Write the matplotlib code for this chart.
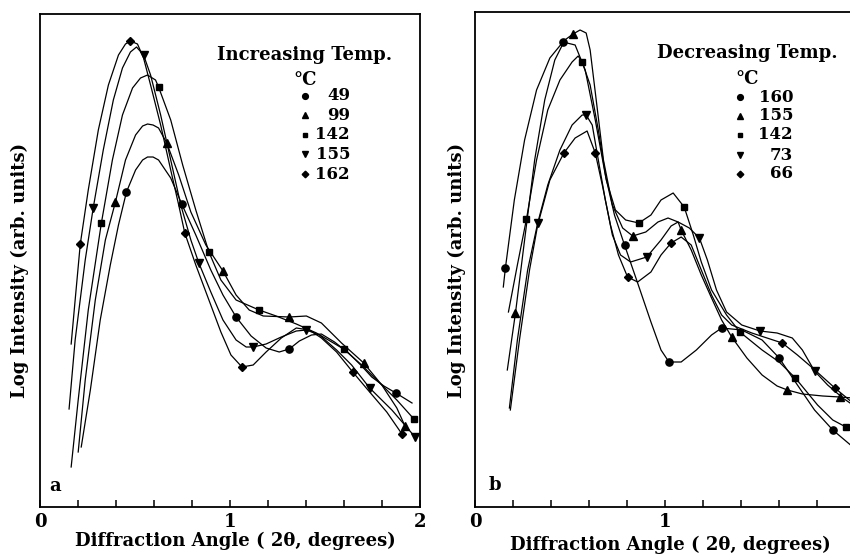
import matplotlib
matplotlib.use("Agg")
import matplotlib.pyplot as plt

plt.rcParams["font.family"] = ["DejaVu Serif"]

# --- panel a: increasing temperature (x = 2 theta, y = log intensity, arb.) ---
inc_temps = ["49", "99", "142", "155", "162"]
inc_markers = ["o", "^", "s", "v", "D"]

a49_x = [0.217, 0.265, 0.317, 0.370, 0.413, 0.455, 0.503, 0.540, 0.566, 0.595, 0.624, 0.688, 0.746, 0.820,
         0.899, 0.963, 1.032, 1.111, 1.190, 1.259, 1.312, 1.365, 1.429, 1.481, 1.550, 1.624, 1.693, 1.746,
         1.810, 1.873, 1.958]
a49_y = [0.28, 0.85, 1.55, 2.10, 2.50, 2.83, 3.05, 3.15, 3.18, 3.18, 3.15, 2.97, 2.71, 2.40,
         2.05, 1.80, 1.58, 1.39, 1.27, 1.23, 1.26, 1.34, 1.40, 1.41, 1.33, 1.22, 1.09, 0.98,
         0.89, 0.82, 0.72]
a49_mx = [0.455, 0.746, 1.032, 1.312, 1.873]
a49_my = [2.83, 2.71, 1.58, 1.26, 0.82]

a99_x = [0.201, 0.238, 0.291, 0.344, 0.397, 0.450, 0.503, 0.540, 0.566, 0.595, 0.624, 0.667, 0.730, 0.794,
         0.873, 0.963, 1.032, 1.101, 1.175, 1.312, 1.402, 1.481, 1.587, 1.704, 1.799, 1.878, 1.921]
a99_y = [0.23, 0.95, 1.75, 2.35, 2.73, 3.15, 3.40, 3.49, 3.51, 3.50, 3.47, 3.32, 3.00, 2.63,
         2.30, 2.04, 1.80, 1.65, 1.59, 1.58, 1.59, 1.52, 1.32, 1.12, 0.90, 0.67, 0.49]
a99_mx = [0.397, 0.667, 0.963, 1.312, 1.704, 1.921]
a99_my = [2.73, 3.32, 2.04, 1.58, 1.12, 0.49]

a142_x = [0.164, 0.201, 0.254, 0.323, 0.381, 0.434, 0.487, 0.529, 0.566, 0.608, 0.624, 0.688, 0.751, 0.820,
          0.889, 0.952, 1.032, 1.153, 1.243, 1.349, 1.455, 1.598, 1.693, 1.799, 1.878, 1.968]
a142_y = [0.08, 0.75, 1.65, 2.52, 3.15, 3.60, 3.87, 3.97, 4.00, 3.95, 3.88, 3.55, 3.10, 2.65,
          2.23, 1.95, 1.75, 1.65, 1.59, 1.51, 1.42, 1.26, 1.10, 0.90, 0.75, 0.56]
a142_mx = [0.323, 0.624, 0.889, 1.153, 1.598, 1.968]
a142_my = [2.52, 3.88, 2.23, 1.65, 1.26, 0.56]

a155_x = [0.153, 0.185, 0.238, 0.280, 0.333, 0.386, 0.434, 0.476, 0.508, 0.545, 0.582, 0.635, 0.688, 0.741,
          0.794, 0.836, 0.899, 0.963, 1.032, 1.085, 1.122, 1.190, 1.270, 1.349, 1.402, 1.471, 1.561, 1.640,
          1.735, 1.852, 1.974]
a155_y = [0.66, 1.35, 2.15, 2.67, 3.25, 3.75, 4.07, 4.23, 4.28, 4.20, 4.00, 3.60, 3.15, 2.70,
          2.35, 2.12, 1.83, 1.55, 1.35, 1.28, 1.28, 1.31, 1.38, 1.44, 1.45, 1.40, 1.25, 1.10,
          0.87, 0.65, 0.38]
a155_mx = [0.280, 0.545, 0.836, 1.122, 1.402, 1.735, 1.974]
a155_my = [2.67, 4.20, 2.12, 1.28, 1.45, 0.87, 0.38]

a162_x = [0.164, 0.185, 0.212, 0.254, 0.307, 0.360, 0.413, 0.450, 0.476, 0.513, 0.545, 0.582, 0.635, 0.688,
          0.730, 0.762, 0.820, 0.889, 0.952, 1.005, 1.063, 1.122, 1.190, 1.270, 1.349, 1.418, 1.481, 1.561,
          1.646, 1.735, 1.825, 1.905]
a162_y = [1.31, 1.75, 2.31, 2.85, 3.45, 3.90, 4.20, 4.31, 4.34, 4.31, 4.17, 3.90, 3.50, 3.05,
          2.70, 2.42, 2.10, 1.75, 1.43, 1.20, 1.08, 1.10, 1.23, 1.37, 1.47, 1.45, 1.37, 1.23,
          1.03, 0.83, 0.63, 0.41]
a162_mx = [0.212, 0.476, 0.762, 1.063, 1.646, 1.905]
a162_my = [2.31, 4.34, 2.42, 1.08, 1.03, 0.41]

# --- panel b: decreasing temperature ---
dec_temps = ["160", "155", "142", "73", "66"]
dec_markers = ["o", "^", "s", "v", "D"]

b160_x = [0.149, 0.160, 0.207, 0.261, 0.324, 0.394, 0.463, 0.527, 0.580, 0.633, 0.686, 0.734, 0.787, 0.856,
          0.926, 0.979, 1.021, 1.085, 1.165, 1.245, 1.298, 1.404, 1.511, 1.601, 1.697, 1.787, 1.883, 1.989]
b160_y = [1.90, 2.09, 2.77, 3.37, 3.87, 4.19, 4.35, 4.32, 4.07, 3.57, 3.02, 2.62, 2.32, 1.94,
          1.55, 1.27, 1.15, 1.15, 1.27, 1.42, 1.49, 1.47, 1.37, 1.19, 0.92, 0.67, 0.47, 0.30]
b160_mx = [0.160, 0.463, 0.787, 1.021, 1.298, 1.601, 1.883]
b160_my = [2.09, 4.35, 2.32, 1.15, 1.49, 1.19, 0.47]

b155_x = [0.170, 0.213, 0.261, 0.314, 0.367, 0.420, 0.473, 0.516, 0.553, 0.585, 0.606, 0.638, 0.676, 0.723,
          0.777, 0.830, 0.899, 0.963, 1.016, 1.069, 1.085, 1.138, 1.191, 1.245, 1.298, 1.351, 1.431, 1.511,
          1.590, 1.644, 1.723, 1.830, 1.920, 1.989]
b155_y = [1.07, 1.64, 2.37, 3.17, 3.77, 4.17, 4.37, 4.43, 4.47, 4.44, 4.27, 3.77, 3.17, 2.72,
          2.49, 2.41, 2.45, 2.55, 2.59, 2.55, 2.47, 2.27, 2.02, 1.79, 1.57, 1.40, 1.19, 1.02,
          0.91, 0.87, 0.83, 0.81, 0.80, 0.79]
b155_mx = [0.213, 0.516, 0.830, 1.085, 1.351, 1.644, 1.920]
b155_my = [1.64, 4.43, 2.41, 2.47, 1.40, 0.87, 0.80]

b142_x = [0.176, 0.223, 0.271, 0.324, 0.383, 0.447, 0.511, 0.543, 0.564, 0.606, 0.649, 0.691, 0.739, 0.793,
          0.862, 0.926, 0.979, 1.043, 1.101, 1.149, 1.191, 1.245, 1.324, 1.394, 1.511, 1.601, 1.686, 1.803,
          1.883, 1.952, 1.989]
b142_y = [1.65, 2.12, 2.58, 3.17, 3.67, 3.97, 4.15, 4.21, 4.15, 3.92, 3.47, 2.97, 2.67, 2.57,
          2.54, 2.62, 2.77, 2.84, 2.70, 2.42, 2.15, 1.87, 1.62, 1.45, 1.27, 1.15, 0.99, 0.72,
          0.57, 0.50, 0.49]
b142_mx = [0.271, 0.564, 0.862, 1.101, 1.394, 1.686, 1.952]
b142_my = [2.58, 4.15, 2.54, 2.70, 1.45, 0.99, 0.50]

b73_x = [0.181, 0.223, 0.277, 0.330, 0.383, 0.447, 0.511, 0.564, 0.585, 0.617, 0.649, 0.686, 0.723, 0.766,
         0.819, 0.904, 0.979, 1.032, 1.069, 1.128, 1.181, 1.223, 1.271, 1.324, 1.404, 1.500, 1.590, 1.670,
         1.723, 1.787, 1.856, 1.936, 1.989]
b73_y = [0.69, 1.37, 2.07, 2.54, 2.92, 3.27, 3.52, 3.62, 3.62, 3.52, 3.17, 2.77, 2.42, 2.22,
         2.15, 2.20, 2.37, 2.51, 2.55, 2.49, 2.39, 2.17, 1.87, 1.65, 1.52, 1.46, 1.44, 1.39,
         1.27, 1.06, 0.92, 0.79, 0.72]
b73_mx = [0.330, 0.585, 0.904, 1.181, 1.500, 1.787]
b73_my = [2.54, 3.62, 2.20, 2.39, 1.46, 1.06]

b66_x = [0.186, 0.234, 0.287, 0.330, 0.394, 0.468, 0.527, 0.590, 0.633, 0.670, 0.713, 0.755, 0.803, 0.856,
         0.926, 0.979, 1.032, 1.085, 1.138, 1.191, 1.245, 1.298, 1.351, 1.457, 1.537, 1.617, 1.697, 1.777,
         1.894, 1.989]
b66_y = [0.67, 1.37, 2.07, 2.52, 2.97, 3.24, 3.39, 3.46, 3.24, 2.92, 2.52, 2.22, 2.00, 1.95,
         2.05, 2.22, 2.34, 2.40, 2.32, 2.07, 1.82, 1.62, 1.52, 1.44, 1.39, 1.34, 1.22, 1.09,
         0.89, 0.74]
b66_mx = [0.468, 0.633, 0.803, 1.032, 1.617, 1.894]
b66_my = [3.24, 3.24, 2.00, 2.34, 1.34, 0.89]

x_ticks = [0, 1, 2]
x_tick_labels = ["0", "1", "2"]
x_minor = [0.2, 0.4, 0.6, 0.8, 1.2, 1.4, 1.6, 1.8]

inc_curves = [(a49_x, a49_y, a49_mx, a49_my), (a99_x, a99_y, a99_mx, a99_my),
              (a142_x, a142_y, a142_mx, a142_my), (a155_x, a155_y, a155_mx, a155_my),
              (a162_x, a162_y, a162_mx, a162_my)]
dec_curves = [(b160_x, b160_y, b160_mx, b160_my), (b155_x, b155_y, b155_mx, b155_my),
              (b142_x, b142_y, b142_mx, b142_my), (b73_x, b73_y, b73_mx, b73_my),
              (b66_x, b66_y, b66_mx, b66_my)]

msize = {"o": 5.2, "^": 5.6, "s": 4.4, "v": 5.6, "D": 4.2}

fig = plt.figure(figsize=(8.5, 5.55), dpi=100)
ax_a = fig.add_axes([40 / 850, 1 - 507 / 555, 380 / 850, 493 / 555])
ax_b = fig.add_axes([475 / 850, 1 - 507 / 555, 380 / 850, 495 / 555])


def draw_panel(ax, curves, markers, temps, title, letter, ylim, leg):
    for (cx, cy, mx, my), m in zip(curves, markers):
        ax.plot(cx, cy, color="black", lw=0.9)
        ax.plot(mx, my, ls="none", marker=m, color="black", ms=msize[m])
    ax.set_xlim(0, 2)
    ax.set_ylim(*ylim)
    ax.set_yticks([])
    ax.set_xticks(x_ticks, x_tick_labels, fontweight="bold")
    ax.set_xticks(x_minor, minor=True)
    ax.tick_params(axis="x", which="both", direction="in", length=5, width=1.1, pad=4,
                   labelsize=13)
    for sp in ax.spines.values():
        sp.set_linewidth(1.3)

    # in-plot legend
    tx, ty, cx_, cy_, mkx, numx, rows = leg
    ax.text(tx, ty, title, transform=ax.transAxes, ha="center", va="center",
            fontsize=13, fontweight="bold")
    ax.text(cx_, cy_, "°C", transform=ax.transAxes, ha="left", va="center",
            fontsize=13, fontweight="bold")
    for m, t, ry in zip(markers, temps, rows):
        ax.plot([mkx], [ry], transform=ax.transAxes, marker=m, color="black",
                ms=msize[m] * 0.8, ls="none")
        ax.text(numx, ry, t, transform=ax.transAxes, ha="right", va="center",
                fontsize=12, fontweight="bold")
    ax.text(letter[1], letter[2], letter[0], transform=ax.transAxes, ha="center", va="center",
            fontsize=13, fontweight="bold")


draw_panel(ax_a, inc_curves, inc_markers, inc_temps, "Increasing Temp.",
           ("a", 0.04, 0.043), (-0.32, 4.61),
           (0.695, 0.917, 0.666, 0.866, 0.697, 0.816, [0.834, 0.795, 0.755, 0.716, 0.675]))
draw_panel(ax_b, dec_curves, dec_markers, dec_temps, "Decreasing Temp.",
           ("b", 0.053, 0.045), (-0.30, 4.65),
           (0.716, 0.917, 0.684, 0.865, 0.697, 0.837, [0.828, 0.790, 0.752, 0.711, 0.673]))

fig.text(20 / 850, 1 - 270 / 555, "Log Intensity (arb. units)", rotation=90,
         ha="center", va="center", fontsize=13, fontweight="bold")
fig.text(457 / 850, 1 - 270 / 555, "Log Intensity (arb. units)", rotation=90,
         ha="center", va="center", fontsize=13, fontweight="bold")
fig.text(235 / 850, 1 - 541 / 555, "Diffraction Angle ( 2θ, degrees)",
         ha="center", va="center", fontsize=13, fontweight="bold")
fig.text(670 / 850, 1 - 545 / 555, "Diffraction Angle ( 2θ, degrees)",
         ha="center", va="center", fontsize=13, fontweight="bold")

fig.savefig("out.png", dpi=100)
